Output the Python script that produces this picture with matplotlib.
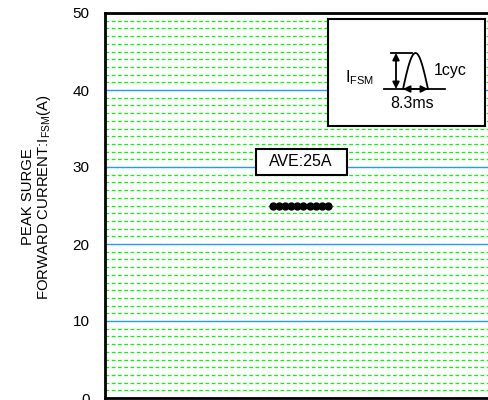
import numpy as np
from matplotlib import pyplot as plt
from matplotlib.patches import Rectangle
from matplotlib.ticker import MultipleLocator

plt.rcParams['font.family'] = ['Liberation Sans', 'DejaVu Sans']

# measured samples (peak surge forward current, A)
sample_no = [1, 2, 3, 4, 5, 6, 7, 8, 9, 10]
ifsm = [25, 25, 25, 25, 25, 25, 25, 25, 25, 25]
yticks = [0, 10, 20, 30, 40, 50]
ave_text = 'AVE:25A'

fig = plt.figure(figsize=(4.89, 4.0), dpi=100)
ax = fig.add_axes([105/489, 2/400, 1 - 105/489, 385/400])

ax.plot(sample_no, ifsm, 'o', color='black', markersize=5, zorder=5)

ax.set_xlim(-26.5, 36.4)
ax.set_ylim(0, 50)
ax.set_yticks(yticks)
ax.yaxis.set_minor_locator(MultipleLocator(1))
ax.set_xticks([])
ax.tick_params(axis='y', which='both', length=0, pad=11, labelsize=11)

ax.grid(which='minor', axis='y', color='#00ff00', linestyle=(0, (3, 2)), linewidth=0.9)
ax.grid(which='major', axis='y', color='#1e9bff', linestyle='-', linewidth=1.0)
ax.set_axisbelow(True)

for s in ['left', 'top', 'bottom']:
    ax.spines[s].set_linewidth(2)
ax.spines['right'].set_visible(False)

ax.set_ylabel('PEAK SURGE\nFORWARD CURRENT:I$_{\\mathregular{FSM}}$(A)', fontsize=10.7,
              labelpad=14.5, linespacing=0.95)
ax.yaxis.label.set_y(0.522)

# average label box
ax.add_patch(Rectangle((-1.8, 28.9), 14.9, 3.45, facecolor='white', edgecolor='black',
                       linewidth=1.5, zorder=6))
ax.text(5.6, 30.75, ave_text, ha='center', va='center', fontsize=11.5, zorder=7)

# inset waveform sketch (pixel space of the inset box)
ins = fig.add_axes([328/489, 1 - 126/400, 157/489, 107/400])
ins.set_xlim(328, 485)
ins.set_ylim(126, 19)
ins.set_xticks([])
ins.set_yticks([])
for s in ins.spines.values():
    s.set_linewidth(1.5)

base_y = 89
ins.plot([384, 445], [base_y, base_y], color='black', lw=1.3)
t = np.linspace(0, np.pi, 60)
ins.plot(403 + (428 - 403) * t / np.pi, base_y - 36 * np.sin(t), color='black', lw=1.3)
ins.plot([391, 412], [53, 53], color='black', lw=1.3)
ins.annotate('', xy=(396, 53), xytext=(396, base_y),
             arrowprops=dict(arrowstyle='<|-|>', color='black', lw=1.3, shrinkA=0, shrinkB=0,
                             mutation_scale=10))
ins.annotate('', xy=(403, base_y), xytext=(428, base_y),
             arrowprops=dict(arrowstyle='<|-|>', color='black', lw=1.3, shrinkA=0, shrinkB=0,
                             mutation_scale=10))
ins.text(345, 78, 'I$_{\\mathregular{FSM}}$', fontsize=11.5, ha='left', va='center')
ins.text(434, 71, '1cyc', fontsize=11.5, ha='left', va='center')
ins.text(412, 104, '8.3ms', fontsize=11.5, ha='center', va='center')

plt.savefig('out.png', dpi=100)
